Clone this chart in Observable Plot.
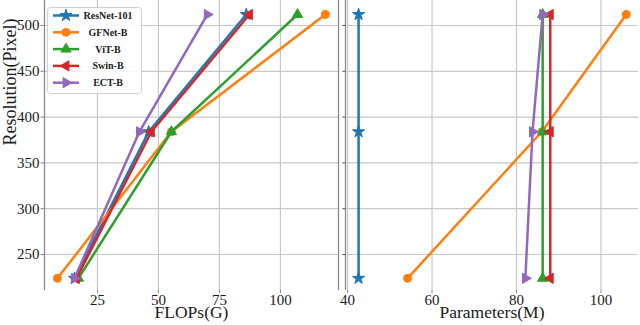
<!DOCTYPE html>
<html>
<head>
<meta charset="utf-8">
<script src="https://cdn.jsdelivr.net/npm/d3@7"></script>
<script src="https://cdn.jsdelivr.net/npm/@observablehq/plot@0.6"></script>
<style>
  body { margin: 0; background: #fff; }
  #wrap { position: relative; width: 640px; height: 325px; overflow: hidden; }
  #wrap > div, #wrap > svg { position: absolute; top: 0; }
  #wrap svg, #wrap svg text { font-family: "Times New Roman", Times, serif !important; }
</style>
</head>
<body>
<div id="wrap"></div>
<script>
// ---- data ----
const models = ["ResNet-101", "GFNet-B", "ViT-B", "Swin-B", "ECT-B"];
const colors = ["#1f77b4", "#ff7f0e", "#2ca02c", "#d62728", "#9467bd"];
const symbols = ["star", "circle", "triangle", "triangle", "triangle"];
const rotations = [0, 0, 0, -90, 90];
const resolutions = [224, 384, 512];

const flopsResNet101 = [15.6, 46.0, 86.0];
const flopsGFNetB   = [8.6, 55.3, 118.4];
const flopsViTB     = [17.2, 55.3, 107.0];
const flopsSwinB    = [16.4, 47.1, 87.3];
const flopsECTB     = [15.6, 42.2, 70.0];

const paramsResNet101 = [42.6, 42.6, 42.6];
const paramsGFNetB    = [54.2, 86.0, 106.0];
const paramsViTB      = [86.2, 86.2, 86.2];
const paramsSwinB     = [88.0, 88.0, 88.0];
const paramsECTB      = [82.1, 83.8, 86.2];

const flopsTicks = [25, 50, 75, 100];
const paramsTicks = [40, 60, 80, 100];
const resTicks = [250, 300, 350, 400, 450, 500];

const flopsSeries = [flopsResNet101, flopsGFNetB, flopsViTB, flopsSwinB, flopsECTB];
const paramsSeries = [paramsResNet101, paramsGFNetB, paramsViTB, paramsSwinB, paramsECTB];

function table(series) {
  const rows = [];
  models.forEach((m, i) => resolutions.forEach((r, j) =>
    rows.push({model: m, idx: i, x: series[i][j], res: r})));
  return rows;
}
const flopsData = table(flopsSeries);
const paramsData = table(paramsSeries);

const yDomain = [210.7, 527.3];
const H = 325;
const FONT = "'Times New Roman', Times, serif";
const INK = "#1a1a1a";

function seriesMarks(data) {
  const marks = [];
  models.forEach((m, i) => {
    const d = data.filter(r => r.model === m);
    marks.push(Plot.line(d, {x: "x", y: "res", stroke: colors[i], strokeWidth: 2.5}));
    marks.push(Plot.dot(d, {x: "x", y: "res", fill: colors[i], stroke: colors[i], strokeWidth: 1,
      symbol: symbols[i], r: i === 1 ? 4 : 3.8, rotate: rotations[i]}));
  });
  return marks;
}

const wrap = document.getElementById("wrap");

// ---- left panel ----
const left = Plot.plot({
  width: 345, height: H,
  marginLeft: 44, marginRight: 7, marginTop: 0, marginBottom: 35,
  style: {fontFamily: FONT, fontSize: "15px", color: INK, background: "transparent", overflow: "visible"},
  x: {domain: [3.3, 123.8], label: null},
  y: {domain: yDomain, label: null},
  marks: [
    Plot.gridX(flopsTicks, {stroke: "#c8c8c8", strokeOpacity: 1, strokeWidth: 1.2}),
    Plot.gridY(resTicks, {stroke: "#c8c8c8", strokeOpacity: 1, strokeWidth: 1.2}),
    Plot.ruleX([3.3, 123.8], {stroke: "#8a8a8a", strokeWidth: 1.3}),
    Plot.axisX(flopsTicks, {tickSize: 3, tickPadding: 1, label: null, fontSize: 15, stroke: "#888"}),
    Plot.axisY(resTicks, {tickSize: 3.5, tickPadding: 1.5, label: null, fontSize: 15, stroke: "#888"}),
    ...seriesMarks(flopsData),
    Plot.text(["FLOPs(G)"], {frameAnchor: "bottom", dy: 27.5, fontSize: 17.5, fill: INK}),
    Plot.text(["Resolution(Pixel)"], {frameAnchor: "left", rotate: -90, dx: -34, fontSize: 18, fill: INK})
  ]
});
left.style.left = "0px";
wrap.appendChild(left);

// ---- right panel ----
const right = Plot.plot({
  width: 302, height: H,
  marginLeft: 7, marginRight: 2, marginTop: 0, marginBottom: 35,
  style: {fontFamily: FONT, fontSize: "15px", color: INK, background: "transparent", overflow: "visible"},
  x: {domain: [39.5, 108.9], label: null},
  y: {domain: yDomain, label: null},
  marks: [
    Plot.gridX(paramsTicks, {stroke: "#c8c8c8", strokeOpacity: 1, strokeWidth: 1.2}),
    Plot.gridY(resTicks, {stroke: "#c8c8c8", strokeOpacity: 1, strokeWidth: 1.2}),
    Plot.ruleX([39.5], {stroke: "#8a8a8a", strokeWidth: 1.3}),
    Plot.axisX(paramsTicks, {tickSize: 3, tickPadding: 1, label: null, fontSize: 15, stroke: "#888"}),
    Plot.axisY(resTicks, {tickSize: 2.5, tickFormat: () => "", label: null, stroke: "#444"}),
    ...seriesMarks(paramsData),
    Plot.text(["Parameters(M)"], {frameAnchor: "bottom", dy: 27.5, fontSize: 17.5, fill: INK})
  ]
});
right.style.left = "338px";
wrap.appendChild(right);

// ---- legend ----
const lg = d3.select(wrap).append("svg")
  .attr("width", 640).attr("height", 325)
  .style("left", "0px").style("pointer-events", "none");
lg.append("rect").attr("x", 47.5).attr("y", 7.5).attr("width", 94).attr("height", 86).attr("rx", 3)
  .attr("fill", "#fff").attr("fill-opacity", 0.85).attr("stroke", "#d0d0d0");
const symMap = {star: d3.symbolStar, circle: d3.symbolCircle, triangle: d3.symbolTriangle};
models.forEach((m, i) => {
  const cy = 15.5 + i * 16.8;
  const g = lg.append("g");
  g.append("line").attr("x1", 53).attr("x2", 79).attr("y1", cy).attr("y2", cy)
    .attr("stroke", colors[i]).attr("stroke-width", 2.5);
  g.append("path").attr("d", d3.symbol(symMap[symbols[i]], i === 1 ? 50 : 45)())
    .attr("transform", `translate(66,${cy}) rotate(${rotations[i]})`)
    .attr("fill", colors[i]).attr("stroke", colors[i]);
  g.append("text").attr("x", 108).attr("y", cy).attr("dy", "0.35em").attr("text-anchor", "middle")
    .attr("font-family", FONT).attr("font-size", 10).attr("font-weight", "bold")
    .attr("fill", INK).text(m);
});
</script>
</body>
</html>
